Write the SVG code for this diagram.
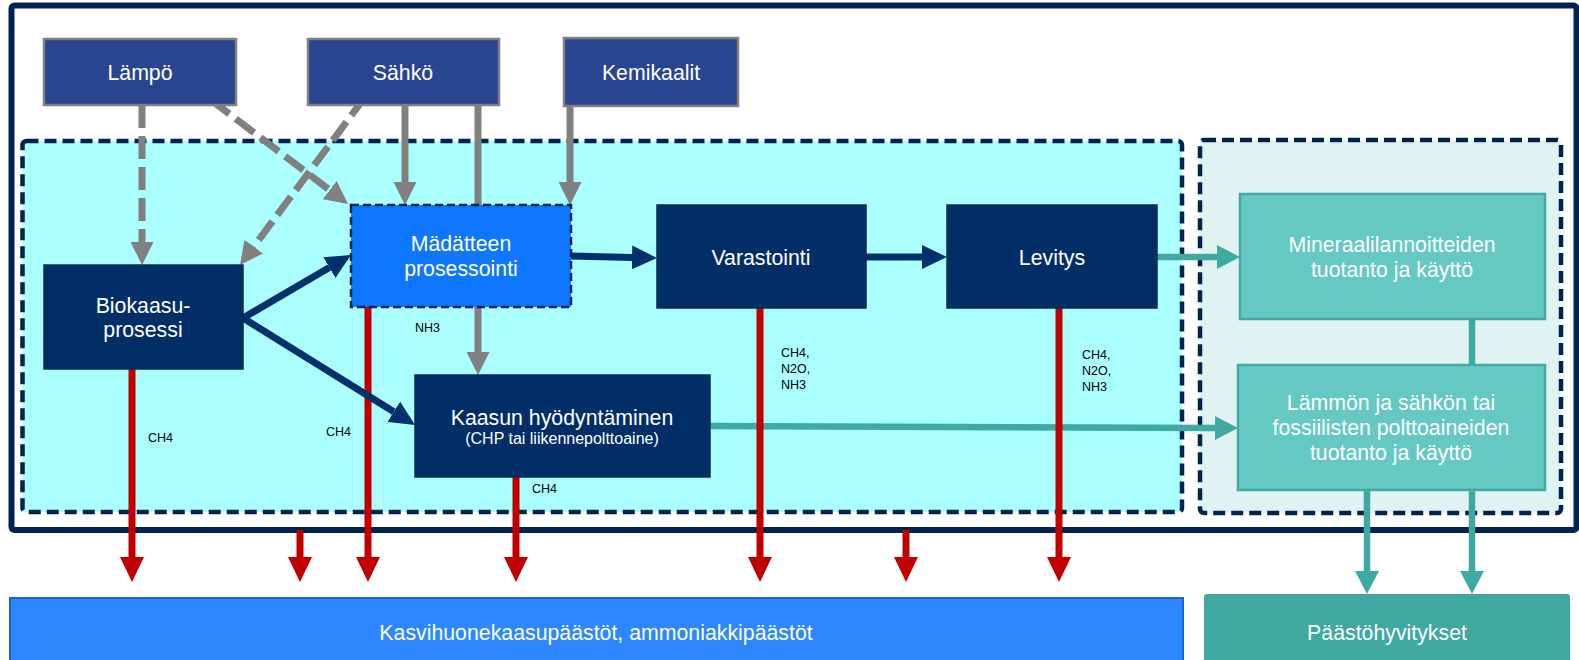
<svg xmlns="http://www.w3.org/2000/svg" width="1579" height="660" viewBox="0 0 1579 660">
<defs>
<style>
text{font-family:"Liberation Sans",Arial,sans-serif;}
.t{fill:#ffffff;font-size:21.3px;text-anchor:middle;}
.s{fill:#ffffff;font-size:16px;text-anchor:middle;}
.l{fill:#000000;font-size:12.5px;}
.top{fill:#29458F;stroke:#7F7F7F;stroke-width:2.5;}
.navy{fill:#012E67;stroke:#0B2A55;stroke-width:1.5;}
.teal{fill:#66C8C2;stroke:#40ABA3;stroke-width:2.5;}
.cont{stroke:#00224F;stroke-width:4.5;stroke-dasharray:12 6;}
.red{stroke:#C00000;stroke-width:7;fill:none;}
.gray{stroke:#808080;stroke-width:7;fill:none;}
.dash{stroke-dasharray:23 8;}
.nv{stroke:#01316D;stroke-width:7;fill:none;}
.tl{stroke:#40AAA2;stroke-width:6.5;fill:none;}
</style>
<marker id="aRed" markerUnits="userSpaceOnUse" viewBox="0 0 25 24" markerWidth="25" markerHeight="24" refX="0" refY="12" orient="auto"><path d="M0,0 L25,12 L0,24 z" fill="#C00000"/></marker>
<marker id="aGray" markerUnits="userSpaceOnUse" viewBox="0 0 23 23" markerWidth="23" markerHeight="23" refX="0" refY="11.5" orient="auto"><path d="M0,0 L23,11.5 L0,23 z" fill="#808080"/></marker>
<marker id="aNavy" markerUnits="userSpaceOnUse" viewBox="0 0 25 24" markerWidth="25" markerHeight="24" refX="0" refY="12" orient="auto"><path d="M0,0 L25,12 L0,24 z" fill="#01316D"/></marker>
<marker id="aTeal" markerUnits="userSpaceOnUse" viewBox="0 0 23 24" markerWidth="23" markerHeight="24" refX="0" refY="12" orient="auto"><path d="M0,0 L23,12 L0,24 z" fill="#40AAA2"/></marker>
</defs>
<rect width="1579" height="660" fill="#ffffff"/>
<g id="frame">
<rect x="11.5" y="5.5" width="1565" height="524.5" rx="3" fill="#ffffff" stroke="#03234F" stroke-width="6"/>
</g>
<g id="container-process">
<rect x="22.5" y="141" width="1159.5" height="371" rx="4" fill="#ABFFFF" class="cont"/>
</g>
<g id="container-offsets">
<rect x="1200" y="140" width="361" height="373" rx="4" fill="#E0F3F2" class="cont"/>
</g>
<g id="connectors">
<path class="tl" d="M1157,257 L1217,257" marker-end="url(#aTeal)"/>
<path class="tl" d="M710,426 L1215,428" marker-end="url(#aTeal)"/>
<path class="tl" d="M1472,319 L1472,365"/>
<path class="tl" d="M1367,490 L1367,571" marker-end="url(#aTeal)"/>
<path class="tl" d="M1472,490 L1472,571" marker-end="url(#aTeal)"/>
<path class="red" d="M132,369 L132,557" marker-end="url(#aRed)"/>
<path class="red" d="M368,307 L368,557" marker-end="url(#aRed)"/>
<path class="red" d="M516,477 L516,557" marker-end="url(#aRed)"/>
<path class="red" d="M760,308 L760,557" marker-end="url(#aRed)"/>
<path class="red" d="M1059,308 L1059,557" marker-end="url(#aRed)"/>
<path class="red" d="M300,530 L300,557" marker-end="url(#aRed)"/>
<path class="red" d="M906,530 L906,557" marker-end="url(#aRed)"/>
<path class="nv" d="M243,318 L329.4,267.6" marker-end="url(#aNavy)"/>
<path class="nv" d="M243,318 L393.8,411.8" marker-end="url(#aNavy)"/>
<path class="nv" d="M571,256 L632,257.4" marker-end="url(#aNavy)"/>
<path class="nv" d="M866,257 L922,257" marker-end="url(#aNavy)"/>
<path class="gray dash" d="M142,105 L142,242" marker-end="url(#aGray)"/>
<path class="gray dash" d="M211,100 L329.7,190.1" marker-end="url(#aGray)"/>
<path class="gray dash" d="M365,97 L253.7,246.6" marker-end="url(#aGray)"/>
<path class="gray" d="M405,105 L405,182" marker-end="url(#aGray)"/>
<path class="gray" d="M478,101 L478,352" marker-end="url(#aGray)"/>
<path class="gray" d="M570,106 L570,182" marker-end="url(#aGray)"/>
</g>
<g id="n-lampo"><rect class="top" x="44" y="39" width="192" height="66"/><text class="t" x="140" y="80" fill="#F2F2F2">Lämpö</text></g>
<g id="n-sahko"><rect class="top" x="308" y="39" width="191" height="66"/><text class="t" x="403" y="80">Sähkö</text></g>
<g id="n-kemikaalit"><rect class="top" x="564" y="38" width="174" height="68"/><text class="t" x="651" y="80">Kemikaalit</text></g>
<g id="n-biokaasu"><rect class="navy" x="44" y="265" width="199" height="104"/><text class="t" x="143" y="313">Biokaasu-</text><text class="t" x="143" y="337">prosessi</text></g>
<g id="n-madate"><rect x="351" y="205" width="220" height="102" fill="#0F76FE" stroke="#00224F" stroke-width="2.5" stroke-dasharray="8 4"/><text class="t" x="461" y="251">Mädätteen</text><text class="t" x="461" y="276">prosessointi</text></g>
<g id="n-varastointi"><rect class="navy" x="657" y="205" width="209" height="103"/><text class="t" x="761" y="265">Varastointi</text></g>
<g id="n-levitys"><rect class="navy" x="947" y="205" width="210" height="103"/><text class="t" x="1052" y="265">Levitys</text></g>
<g id="n-kaasun"><rect class="navy" x="415" y="375" width="295" height="102"/><text class="t" x="562" y="425">Kaasun hyödyntäminen</text><text class="s" x="562" y="444">(CHP tai liikennepolttoaine)</text></g>
<g id="n-mineraali"><rect class="teal" x="1240" y="194" width="305" height="125"/><text class="t" x="1392" y="252">Mineraalilannoitteiden</text><text class="t" x="1392" y="277">tuotanto ja käyttö</text></g>
<g id="n-lammon"><rect class="teal" x="1238" y="365" width="307" height="125"/><text class="t" x="1391" y="410">Lämmön ja sähkön tai</text><text class="t" x="1391" y="435">fossiilisten polttoaineiden</text><text class="t" x="1391" y="460">tuotanto ja käyttö</text></g>
<g id="n-paastot"><rect x="10" y="598" width="1173" height="70" fill="#2E87FF" stroke="#1565D8" stroke-width="2"/><text class="t" x="596" y="640">Kasvihuonekaasupäästöt, ammoniakkipäästöt</text></g>
<g id="n-hyvitykset"><rect x="1204" y="594" width="366" height="74" rx="3" fill="#3FA9A1"/><text class="t" x="1387" y="640">Päästöhyvitykset</text></g>
<g id="labels">
<text class="l" x="148" y="442">CH4</text>
<text class="l" x="326" y="436">CH4</text>
<text class="l" x="415" y="332">NH3</text>
<text class="l" x="532" y="493">CH4</text>
<text class="l" x="781" y="357">CH4,</text>
<text class="l" x="781" y="373">N2O,</text>
<text class="l" x="781" y="389">NH3</text>
<text class="l" x="1082" y="359">CH4,</text>
<text class="l" x="1082" y="375">N2O,</text>
<text class="l" x="1082" y="391">NH3</text>
</g>
</svg>
